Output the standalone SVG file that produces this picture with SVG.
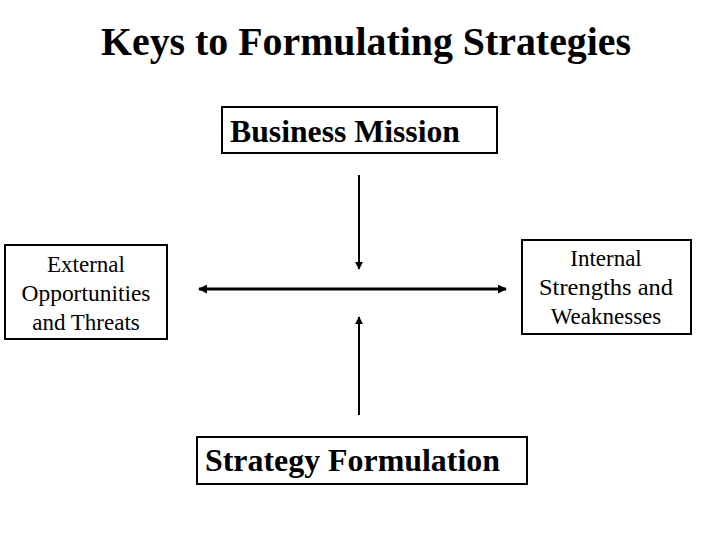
<svg xmlns="http://www.w3.org/2000/svg" width="720" height="540" viewBox="0 0 720 540">
<style>
.box{fill:#fff;stroke:#000;stroke-width:2}
.t{font-family:"Liberation Serif","Times New Roman",serif;fill:#000}
.b{font-weight:bold;font-size:31px}
.s{font-size:23px;text-anchor:middle}
.c{stroke:#000;fill:none}
</style>
<defs>
<marker id="ah" viewBox="0 0 10 10" refX="9" refY="5" markerWidth="4" markerHeight="4" orient="auto-start-reverse" markerUnits="strokeWidth">
<path d="M0,0 L10,5 L0,10 z" fill="#000"/>
</marker>
<marker id="ah2" viewBox="0 0 10 10" refX="9" refY="5" markerWidth="3" markerHeight="3" orient="auto-start-reverse" markerUnits="strokeWidth">
<path d="M0,0 L10,5 L0,10 z" fill="#000"/>
</marker>
</defs>
<rect width="720" height="540" fill="#fff"/>
<text class="t" x="366" y="55" font-size="40" font-weight="bold" text-anchor="middle" textLength="530" lengthAdjust="spacingAndGlyphs">Keys to Formulating Strategies</text>
<g id="connectors">
<line class="c" x1="359" y1="175" x2="359" y2="269" stroke-width="2" marker-end="url(#ah)"/>
<line class="c" x1="359" y1="415" x2="359" y2="317" stroke-width="2" marker-end="url(#ah)"/>
<line class="c" x1="199" y1="289" x2="506" y2="289" stroke-width="3" marker-start="url(#ah2)" marker-end="url(#ah2)"/>
</g>
<g id="business-mission">
<rect class="box" x="222" y="107" width="275" height="46"/>
<text class="t b" x="230" y="142" textLength="230" lengthAdjust="spacingAndGlyphs">Business Mission</text>
</g>
<g id="external">
<rect class="box" x="5" y="245" width="162" height="94"/>
<text class="t s" x="86" y="272">External</text>
<text class="t s" x="86" y="301" textLength="129" lengthAdjust="spacingAndGlyphs">Opportunities</text>
<text class="t s" x="86" y="330">and Threats</text>
</g>
<g id="internal">
<rect class="box" x="522" y="240" width="169" height="94"/>
<text class="t s" x="606" y="266">Internal</text>
<text class="t s" x="606" y="295" textLength="134" lengthAdjust="spacingAndGlyphs">Strengths and</text>
<text class="t s" x="606" y="324">Weaknesses</text>
</g>
<g id="strategy-formulation">
<rect class="box" x="197" y="437" width="330" height="47"/>
<text class="t b" x="205" y="471" textLength="295" lengthAdjust="spacingAndGlyphs">Strategy Formulation</text>
</g>
</svg>
